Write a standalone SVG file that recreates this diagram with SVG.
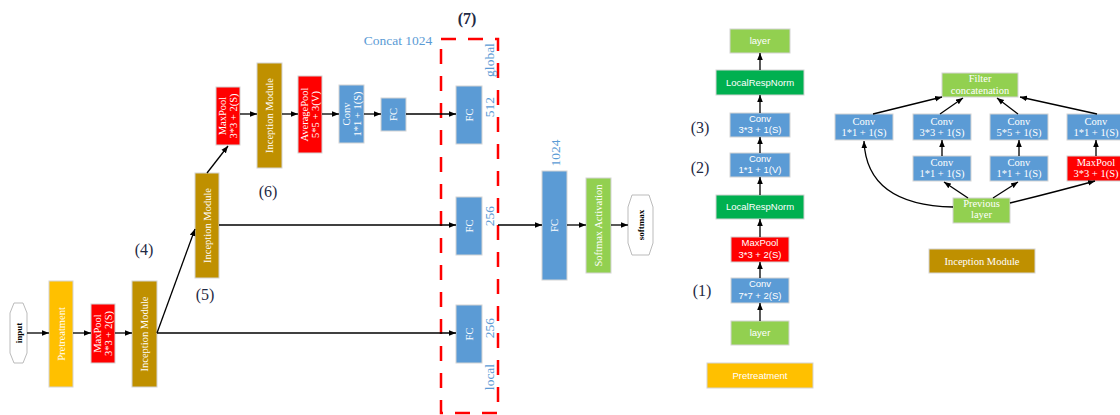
<svg xmlns="http://www.w3.org/2000/svg" width="1120" height="415" viewBox="0 0 1120 415">
<defs>
<marker id="ah" viewBox="0 0 10 10" refX="10" refY="5" markerWidth="7" markerHeight="7" markerUnits="userSpaceOnUse" orient="auto"><path d="M0,1 L10,5 L0,9 z" fill="#000"/></marker>
</defs>
<style>
.b{stroke:#d4d4d4;stroke-width:1}
.blue{fill:#5B9BD5}.red{fill:#FF0000}.gold{fill:#BF9000}.yel{fill:#FFC000}.lg{fill:#92D050}.dg{fill:#00B050}
.t{font-family:"Liberation Serif","Times New Roman",serif;font-size:10.5px;fill:#fff;text-anchor:middle}
.s{font-family:"Liberation Sans",Arial,sans-serif;font-size:9.5px;fill:#fff;text-anchor:middle}
.ti{font-family:"Liberation Serif","Times New Roman",serif;font-size:10.5px;fill:#fff;text-anchor:middle}
.lab{font-family:"Liberation Serif","Times New Roman",serif;font-size:16px;fill:#1f2a44;text-anchor:middle}
.bl{font-family:"Liberation Serif","Times New Roman",serif;font-size:13.5px;fill:#5B9BD5;text-anchor:middle}
.oct{fill:#fff;stroke:#bbb;stroke-width:1}
.ot{font-family:"Liberation Serif","Times New Roman",serif;font-size:9px;font-weight:bold;fill:#000;text-anchor:middle}
.c{stroke:#000;stroke-width:1.3;fill:none;marker-end:url(#ah)}
</style>

<!-- Left network -->
<g id="input"><polygon class="oct" points="14,303 23,303 27,313 27,353 23,363 14,363 10,353 10,313"/><text class="ot" transform="translate(18.5,333) rotate(-90)" y="3">input</text></g>
<g id="pretreat"><rect class="b yel" x="49" y="281" width="24" height="106"/><text class="t" transform="translate(61,334) rotate(-90)" y="3.5">Pretreatment</text></g>
<g id="maxpool1"><rect class="b red" x="91" y="304" width="24" height="59"/><text class="t" transform="translate(103,333.5) rotate(-90)"><tspan x="0" y="-2">MaxPool</tspan><tspan x="0" y="9">3*3 + 2(S)</tspan></text></g>
<g id="im1"><rect class="b gold" x="132" y="281" width="25" height="106"/><text class="t" transform="translate(144.5,334) rotate(-90)" y="3.5">Inception Module</text></g>
<g id="im2"><rect class="b gold" x="195" y="173" width="24" height="105"/><text class="t" transform="translate(207,225.5) rotate(-90)" y="3.5">Inception Module</text></g>
<g id="maxpool2"><rect class="b red" x="216" y="87" width="24" height="58"/><text class="t" transform="translate(228,116) rotate(-90)"><tspan x="0" y="-2">MaxPool</tspan><tspan x="0" y="9">3*3 + 2(S)</tspan></text></g>
<g id="im3"><rect class="b gold" x="257" y="63" width="25" height="105"/><text class="t" transform="translate(269.5,115.5) rotate(-90)" y="3.5">Inception Module</text></g>
<g id="avgpool"><rect class="b red" x="298" y="76" width="24" height="77"/><text class="t" transform="translate(310,114.5) rotate(-90)"><tspan x="0" y="-2">AveragePool</tspan><tspan x="0" y="9">5*5 + 3(V)</tspan></text></g>
<g id="conv"><rect class="b blue" x="339" y="85" width="25" height="58"/><text class="t" transform="translate(351.5,114) rotate(-90)"><tspan x="0" y="-2">Conv</tspan><tspan x="0" y="9">1*1 + 1(S)</tspan></text></g>
<g id="fc1"><rect class="b blue" x="381" y="98" width="25" height="33"/><text class="t" transform="translate(393.5,114.5) rotate(-90)" y="3.5">FC</text></g>
<g id="fcg"><rect class="b blue" x="456" y="86" width="26" height="58"/><text class="t" transform="translate(469,115) rotate(-90)" y="3.5">FC</text></g>
<g id="fcm"><rect class="b blue" x="456" y="197" width="26" height="58"/><text class="t" transform="translate(469,226) rotate(-90)" y="3.5">FC</text></g>
<g id="fcl"><rect class="b blue" x="456" y="305" width="26" height="58"/><text class="t" transform="translate(469,334) rotate(-90)" y="3.5">FC</text></g>
<g id="fcbig"><rect class="b blue" x="542" y="171" width="25" height="109"/><text class="t" transform="translate(554.5,225.5) rotate(-90)" y="3.5">FC</text></g>
<g id="softact"><rect class="b lg" x="586" y="178" width="25" height="95"/><text class="t" transform="translate(598.5,225.5) rotate(-90)" y="3.5">Softmax Activation</text></g>
<g id="softmax"><polygon class="oct" points="632,195 649,195 653,207 653,243 649,255 632,255 628,243 628,207"/><text class="ot" transform="translate(640.5,225) rotate(-90)" y="3">softmax</text></g>

<g id="concat">
<rect x="441" y="39" width="57" height="374" fill="none" stroke="#FF0000" stroke-width="2.5" stroke-dasharray="15 12"/>
<text class="bl" x="398" y="45">Concat 1024</text>
<text class="bl" transform="translate(490,60) rotate(-90)" y="4">global</text>
<text class="bl" transform="translate(490,107) rotate(-90)" y="4">512</text>
<text class="bl" transform="translate(490,216) rotate(-90)" y="4">256</text>
<text class="bl" transform="translate(490,328) rotate(-90)" y="4">256</text>
<text class="bl" transform="translate(490,377) rotate(-90)" y="4">local</text>
<text class="bl" transform="translate(556,153) rotate(-90)" y="4">1024</text>
</g>

<g id="labels">
<text class="lab" x="467" y="24" font-weight="bold">(7)</text>
<text class="lab" x="268" y="197">(6)</text>
<text class="lab" x="144" y="255">(4)</text>
<text class="lab" x="205" y="300">(5)</text>
<text class="lab" x="700" y="133">(3)</text>
<text class="lab" x="700" y="173">(2)</text>
<text class="lab" x="702" y="296">(1)</text>
</g>

<!-- Right panel: pretreatment -->
<g id="r_layer_top"><rect class="b lg" x="730" y="29" width="60" height="24"/><text class="s" x="760" y="44">layer</text></g>
<g id="r_lrn1"><rect class="b dg" x="716" y="70" width="88" height="25"/><text class="s" x="760" y="86">LocalRespNorm</text></g>
<g id="r_conv3"><rect class="b blue" x="730" y="113" width="60" height="24"/><text class="s" x="760" y="122">Conv</text><text class="s" x="760" y="133">3*3 + 1(S)</text></g>
<g id="r_conv1"><rect class="b blue" x="730" y="153" width="60" height="24"/><text class="s" x="760" y="162">Conv</text><text class="s" x="760" y="173">1*1 + 1(V)</text></g>
<g id="r_lrn2"><rect class="b dg" x="716" y="195" width="88" height="24"/><text class="s" x="760" y="210">LocalRespNorm</text></g>
<g id="r_maxpool"><rect class="b red" x="731" y="237" width="58" height="25"/><text class="s" x="760" y="246">MaxPool</text><text class="s" x="760" y="258">3*3 + 2(S)</text></g>
<g id="r_conv7"><rect class="b blue" x="731" y="278" width="58" height="25"/><text class="s" x="760" y="287">Conv</text><text class="s" x="760" y="299">7*7 + 2(S)</text></g>
<g id="r_layer_bot"><rect class="b lg" x="731" y="321" width="58" height="24"/><text class="s" x="760" y="336">layer</text></g>
<g id="r_pretreat"><rect class="b yel" x="707" y="363" width="106" height="25"/><text class="s" x="760" y="379">Pretreatment</text></g>

<!-- Inception module panel -->
<g id="i_filter"><rect class="b lg" x="942" y="73" width="76" height="24"/><text class="ti" x="980" y="82">Filter</text><text class="ti" x="980" y="94">concatenation</text></g>
<g id="i_c1"><rect class="b blue" x="835" y="114" width="58" height="26"/><text class="ti" x="864" y="125">Conv</text><text class="ti" x="864" y="136">1*1 + 1(S)</text></g>
<g id="i_c3"><rect class="b blue" x="913" y="114" width="58" height="26"/><text class="ti" x="942" y="125">Conv</text><text class="ti" x="942" y="136">3*3 + 1(S)</text></g>
<g id="i_c5"><rect class="b blue" x="990" y="114" width="58" height="26"/><text class="ti" x="1019" y="125">Conv</text><text class="ti" x="1019" y="136">5*5 + 1(S)</text></g>
<g id="i_c1r"><rect class="b blue" x="1067" y="114" width="58" height="26"/><text class="ti" x="1096" y="125">Conv</text><text class="ti" x="1096" y="136">1*1 + 1(S)</text></g>
<g id="i_c1a"><rect class="b blue" x="913" y="156" width="58" height="25"/><text class="ti" x="942" y="166">Conv</text><text class="ti" x="942" y="177">1*1 + 1(S)</text></g>
<g id="i_c1b"><rect class="b blue" x="990" y="156" width="58" height="25"/><text class="ti" x="1019" y="166">Conv</text><text class="ti" x="1019" y="177">1*1 + 1(S)</text></g>
<g id="i_mp"><rect class="b red" x="1067" y="156" width="58" height="25"/><text class="ti" x="1096" y="166">MaxPool</text><text class="ti" x="1096" y="177">3*3 + 1(S)</text></g>
<g id="i_prev"><rect class="b lg" x="953" y="198" width="57" height="25"/><text class="ti" x="981.5" y="207">Previous</text><text class="ti" x="981.5" y="218">layer</text></g>
<g id="legend_im"><rect class="b gold" x="929" y="249" width="106" height="24"/><text class="ti" x="982" y="265">Inception Module</text></g>

<g id="connectors">
<line class="c" x1="27" y1="333" x2="49" y2="333"/>
<line class="c" x1="73" y1="333" x2="91" y2="333"/>
<line class="c" x1="115" y1="333" x2="132" y2="333"/>
<line class="c" x1="157" y1="333" x2="456" y2="333"/>
<line class="c" x1="157" y1="333" x2="195" y2="229"/>
<line class="c" x1="219" y1="225" x2="456" y2="225"/>
<line class="c" x1="207" y1="173" x2="228" y2="146"/>
<line class="c" x1="240" y1="114" x2="257" y2="114"/>
<line class="c" x1="282" y1="114" x2="298" y2="114"/>
<line class="c" x1="322" y1="114" x2="339" y2="114"/>
<line class="c" x1="364" y1="114" x2="381" y2="114"/>
<line class="c" x1="406" y1="114" x2="456" y2="114"/>
<line class="c" x1="498" y1="225" x2="542" y2="225"/>
<line class="c" x1="567" y1="225" x2="586" y2="225"/>
<line class="c" x1="611" y1="225" x2="628" y2="225"/>
<line class="c" x1="760" y1="321" x2="760" y2="303"/>
<line class="c" x1="760" y1="278" x2="760" y2="262"/>
<line class="c" x1="760" y1="237" x2="760" y2="219"/>
<line class="c" x1="760" y1="195" x2="760" y2="177"/>
<line class="c" x1="760" y1="153" x2="760" y2="137"/>
<line class="c" x1="760" y1="113" x2="760" y2="95"/>
<line class="c" x1="760" y1="70" x2="760" y2="53"/>
<line class="c" x1="942" y1="156" x2="942" y2="140"/>
<line class="c" x1="1019" y1="156" x2="1019" y2="140"/>
<line class="c" x1="1096" y1="156" x2="1096" y2="140"/>
<line class="c" x1="873" y1="114" x2="942" y2="97"/>
<line class="c" x1="940" y1="114" x2="963" y2="98"/>
<line class="c" x1="1018" y1="114" x2="997" y2="98"/>
<line class="c" x1="1097" y1="114" x2="1020" y2="97"/>
<path class="c" d="M953,207 C905,206 866,190 864,141"/>
<line class="c" x1="968" y1="198" x2="944" y2="182"/>
<line class="c" x1="993" y1="198" x2="1018" y2="182"/>
<path class="c" d="M1010,203 Q1055,192 1095,181"/>
</g>
</svg>
